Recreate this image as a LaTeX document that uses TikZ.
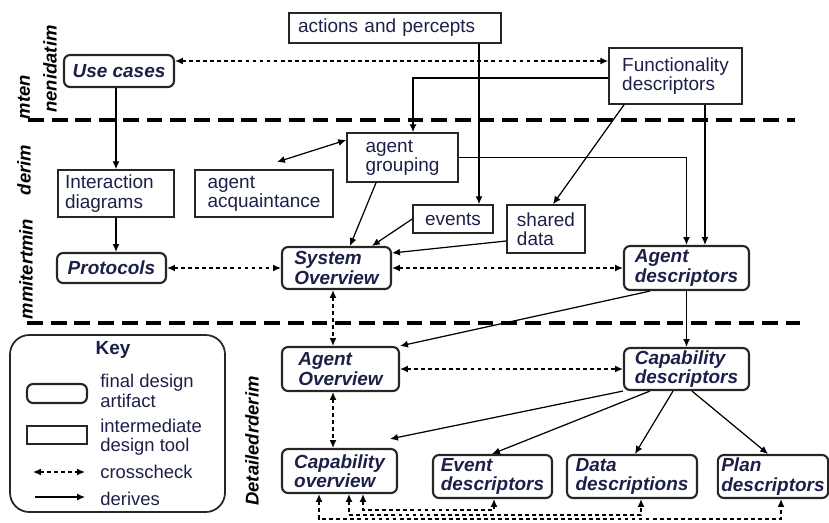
\documentclass[tikz,border=0pt]{standalone}
\usepackage{fontspec}
\setmainfont{Liberation Sans}
\usetikzlibrary{arrows.meta}
\definecolor{ink}{RGB}{28,32,72}
\begin{document}
\begin{tikzpicture}[x=0.02cm, y=-0.02cm,
  tool/.style={draw=black!85, line width=0.9pt, align=left, inner xsep=2pt, inner ysep=1pt, text=ink, font=\fontsize{10.8}{11}\selectfont},
  final/.style={tool, rounded corners=3.5pt, line width=1.2pt, font=\fontsize{10.8}{11}\selectfont\bfseries\itshape},
  wh/.style 2 args={minimum width=#1*0.02cm, minimum height=#2*0.02cm},
  derive/.style={-{Latex[length=4.5pt,width=4pt]}, line width=0.7pt},
  cross/.style={{Latex[length=4.5pt,width=4pt]}-{Latex[length=4.5pt,width=4pt]}, line width=0.8pt, dash pattern=on 2.2pt off 1.8pt},
  phase/.style={rotate=90, inner sep=0pt, font=\fontsize{10.5}{11}\selectfont\bfseries\itshape},
  keytext/.style={anchor=west, align=left, inner sep=0pt, text=ink, font=\fontsize{10.5}{11}\selectfont},
  sep/.style={line width=1.8pt, dash pattern=on 9pt off 4.5pt}]
\useasboundingbox (0,0) rectangle (829,522);
\node(act) at (395,28) [tool, inner xsep=0.18cm, text width=3.88cm, wh={212}{30}]{actions and percepts};
\node(use) at (119,71) [final, wh={110}{32}]{Use cases};
\node(func) at (675.5,76) [tool, wh={133}{56}]{Functionality\\descriptors};
\node(inter) at (116,193.5) [tool, inner xsep=0.14cm, text width=2.04cm, wh={116}{47}]{Interaction\\diagrams};
\node(acq) at (264,193.5) [tool, wh={138}{47}]{agent\\acquaintance};
\node(group) at (402.5,157.5) [tool, wh={111}{49}]{agent\\grouping};
\node(events) at (453,219) [tool, wh={80}{28}]{events};
\node(shared) at (546,229) [tool, wh={78}{48}]{shared\\data};
\node(proto) at (111.5,268) [final, wh={109}{30}]{Protocols};
\node(sysov) at (336.5,268) [final, wh={109}{42}]{System\\Overview};
\node(agdesc) at (686.5,268) [final, wh={125}{44}]{Agent\\descriptors};
\node(agov) at (340.5,369) [final, wh={117}{44}]{Agent\\Overview};
\node(capdesc) at (686.5,369) [final, wh={125}{42}]{Capability\\descriptors};
\node(capov) at (339.5,471) [final, wh={115}{44}]{Capability\\overview};
\node(evdesc) at (492.5,476.5) [final, wh={119}{43}]{Event\\descriptors};
\node(datadesc) at (632,476.5) [final, wh={130}{43}]{Data\\descriptions};
\node(plandesc) at (773,476.5) [final, wh={110}{43}]{Plan\\descriptors};
\node(ph1) at (50,69) [phase]{nenidatim};
\node(ph2) at (24,97) [phase]{mten};
\node(ph3) at (24,170) [phase]{derim};
\node(ph4) at (26,269) [phase]{mmitertmin};
\node(ph5) at (252,441) [phase]{Detailedrderim};
\draw[sep] (28,120) -- (795,120);
\draw[sep] (27,323) -- (800,323);
\coordinate (acqend) at (277,162);
\draw[cross] (use.east |- 0,61) to (func.west |- 0,61);
\draw[derive] (inter.north |- use.south) to (inter.north);
\draw[derive] (inter.south) to (inter.south |- proto.north);
\draw[cross] (proto) to (sysov);
\draw[derive] (act.south -| 479,0) to (events.north -| 479,0);
\draw[derive] (func.west |- 0,78) -| (413,0 |- group.north);
\draw[{Latex[length=4.5pt,width=4pt]}-{Latex[length=4.5pt,width=4pt]}, line width=0.7pt] (group.west |- 0,140) to (acqend);
\draw[derive] (group.east) -| (agdesc.north);
\draw[derive] (func.south -| 705,0) to (agdesc.north -| 705,0);
\draw[derive] (func.south -| 624,0) to (shared.north -| 553,0);
\draw[derive] (group.south -| 376,0) to (350,0 |- sysov.north);
\draw[derive] (events.west) to (372,0 |- sysov.north);
\draw[derive] (shared.west |- 0,241) to (sysov.east |- 0,253);
\draw[cross] (sysov) to (agdesc);
\draw[cross] (sysov.south -| 333,0) to (agov.north -| 333,0);
\draw[derive] (agdesc.south -| 650,0) to (agov.north east);
\draw[derive] (agdesc) to (capdesc);
\draw[cross] (agov) to (capdesc);
\draw[cross] (agov.south -| 333,0) to (capov.north -| 333,0);
\draw[derive] (capdesc.south west) to ([shift={(-8,-9)}]capov.north east);
\draw[derive] (capdesc.south -| 650,0) to (492,0 |- evdesc.north);
\draw[derive] (capdesc.south -| 673,0) to (635,0 |- datadesc.north);
\draw[derive] (capdesc.south -| 692,0) to (768,0 |- plandesc.north);
\draw[cross] (capov.south -| 363,0) |- (494,510) -- (evdesc.south -| 494,0);
\draw[cross] (capov.south -| 349,0) |- (641,515) -- (datadesc.south -| 641,0);
\draw[cross] (capov.south -| 319,0) |- (781,519) -- (plandesc.south -| 781,0);
\node(keybox) at (117.5,423.5) [draw=black!85, line width=1pt, rounded corners=11pt, wh={215}{177}]{};
\node(key) at (113,350) [text=ink, font=\fontsize{10.8}{11}\selectfont\bfseries]{Key};
\node(kfinal) at (57,393.5) [final, wh={60}{19}]{};
\node(ktool) at (57,435) [tool, wh={60}{18}]{};
\coordinate (kc1) at (33,472);
\coordinate (kc2) at (85,472);
\coordinate (kd1) at (35,497);
\coordinate (kd2) at (85,497);
\draw[cross] (kc1) to (kc2);
\draw[derive] (kd1) to (kd2);
\node(lfinal) at (100,391) [keytext]{final design\\artifact};
\node(ltool) at (100,437) [keytext]{intermediate\\design tool};
\node(lcross) at (100,472) [keytext]{crosscheck};
\node(lderive) at (100,499) [keytext]{derives};
\end{tikzpicture}
\end{document}
